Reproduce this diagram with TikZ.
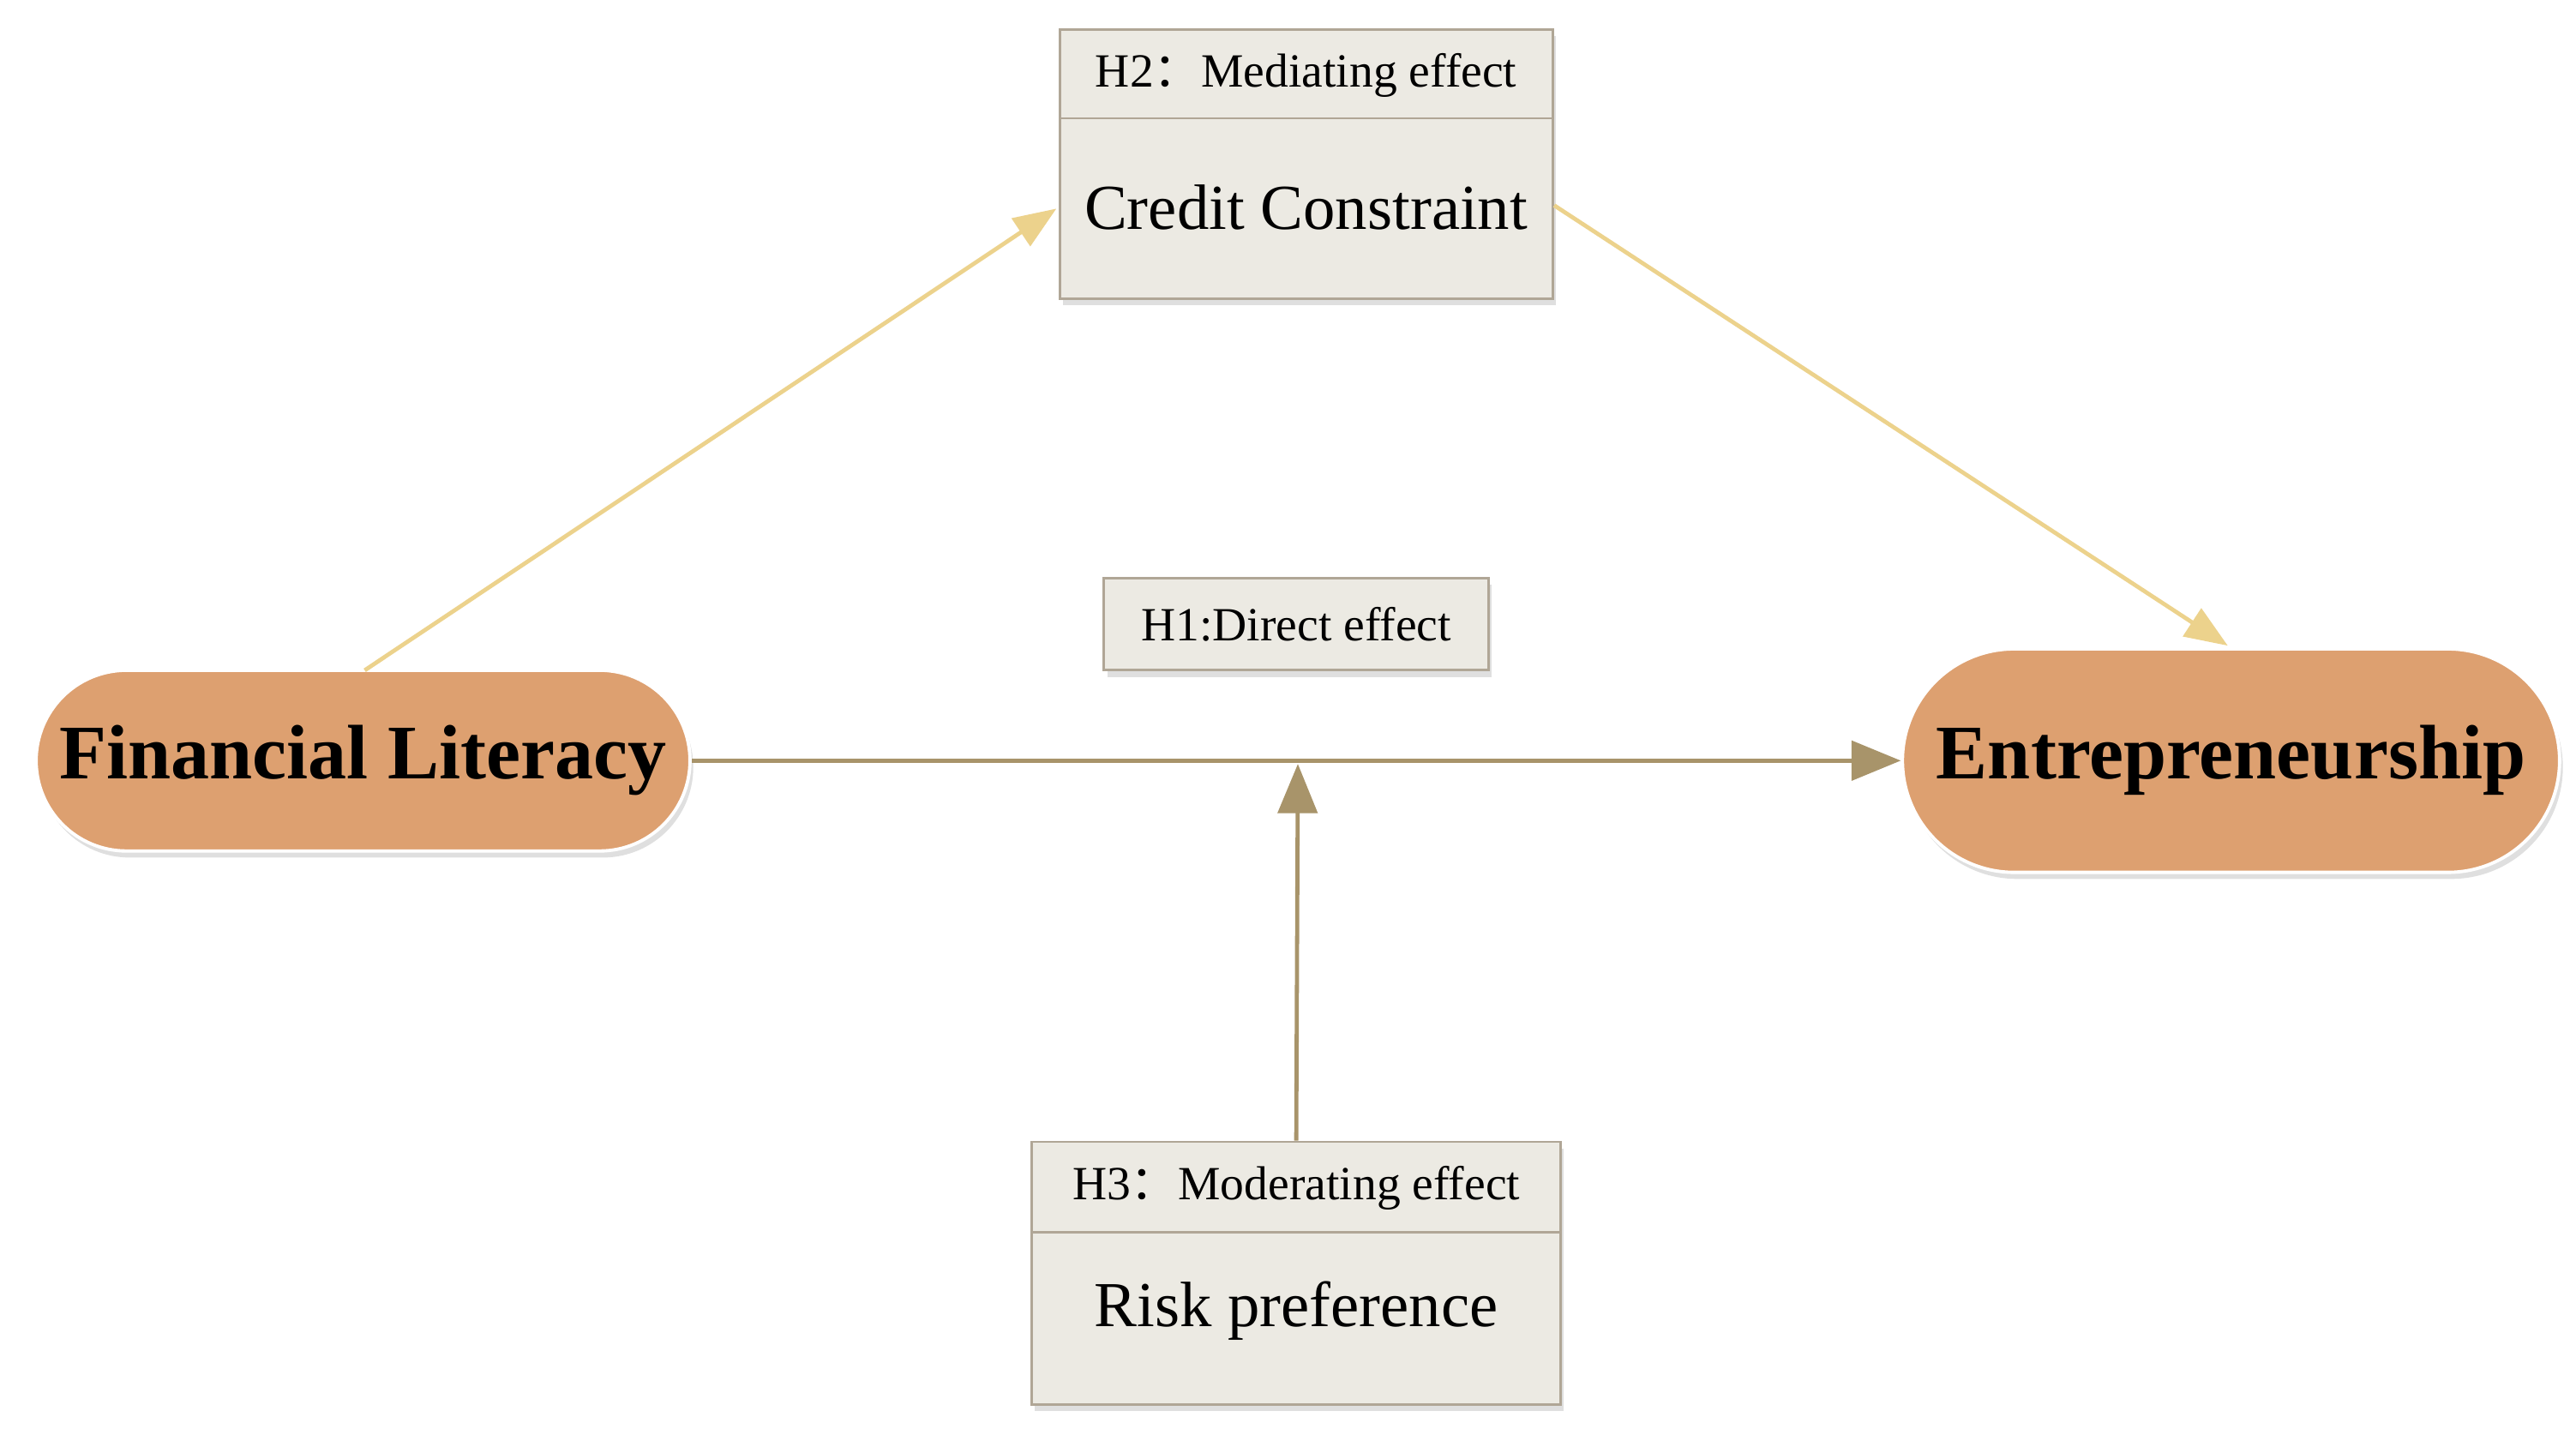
\documentclass[tikz,border=0pt]{standalone}
\usepackage{fontspec}
\setmainfont{Liberation Serif}
\newfontfamily\cjk{Noto Sans CJK SC}
\usetikzlibrary{shadows,arrows.meta}
\definecolor{pill}{RGB}{221,160,112}
\definecolor{boxf}{RGB}{236,234,227}
\definecolor{boxd}{RGB}{176,166,150}
\definecolor{arY}{RGB}{236,210,140}
\definecolor{arD}{RGB}{168,148,106}
\tikzset{
 pillnode/.style={draw=white,line width=2pt,fill=pill,rounded corners=55pt,minimum height=110pt,inner sep=0pt,font=\fontsize{47}{50}\selectfont\bfseries,drop shadow={opacity=0.25,shadow xshift=2pt,shadow yshift=-4pt}},
 boxn/.style={draw=boxd,line width=1.5pt,fill=boxf,inner sep=0pt,drop shadow={opacity=0.25,shadow xshift=2pt,shadow yshift=-4pt}},
 hdr/.style={font=\fontsize{29}{31}\selectfont},
 big/.style={font=\fontsize{39}{42}\selectfont},
 ya/.style={draw=arY,line width=2.5pt,-{Triangle[length=26pt,width=20pt]}},
 da/.style={draw=arD,line width=2.5pt,-{Triangle[length=30pt,width=24pt]}}
}
\begin{document}
\begin{tikzpicture}[x=1pt,y=-1pt]
\useasboundingbox (0,0) rectangle (1568,877);
% Credit box
\node[boxn,minimum width=300pt,minimum height=164pt] (cc) at (795,100) {};
\draw[boxd,line width=1.5pt] (645,72) -- (945,72);
\node[hdr] (cch) at (795,46) {H2{\cjk ：}Mediating effect};
\node[big] (cct) at (795,126) {Credit Constraint};
% H1
\node[boxn,minimum width=234pt,minimum height=56pt,hdr] (h1) at (789,380) {H1:Direct effect};
% Pills
\node[pillnode,minimum width=398pt] (fl) at (221,463) {Financial Literacy};
\node[pillnode,minimum width=400pt,minimum height=136pt,rounded corners=68pt] (en) at (1358,463) {Entrepreneurship};
% Risk box
\node[boxn,minimum width=322pt,minimum height=160pt] (rp) at (789,775) {};
\draw[boxd,line width=1.5pt] (628,750) -- (950,750);
\node[hdr] (rph) at (789,723) {H3{\cjk ：}Moderating effect};
\node[big] (rpt) at (789,798) {Risk preference};
% arrows
\coordinate (a1) at (222,408);
\coordinate (a2) at (643,127);
\coordinate (b1) at (946,125);
\coordinate (b2) at (1356,393);
\coordinate (m) at (790,465);
\draw[ya] (a1) -- (a2);
\draw[ya] (b1) -- (b2);
\draw[da] (fl.east) -- (en.west);
\draw[da] (rp.north) -- (m);
\end{tikzpicture}
\end{document}
